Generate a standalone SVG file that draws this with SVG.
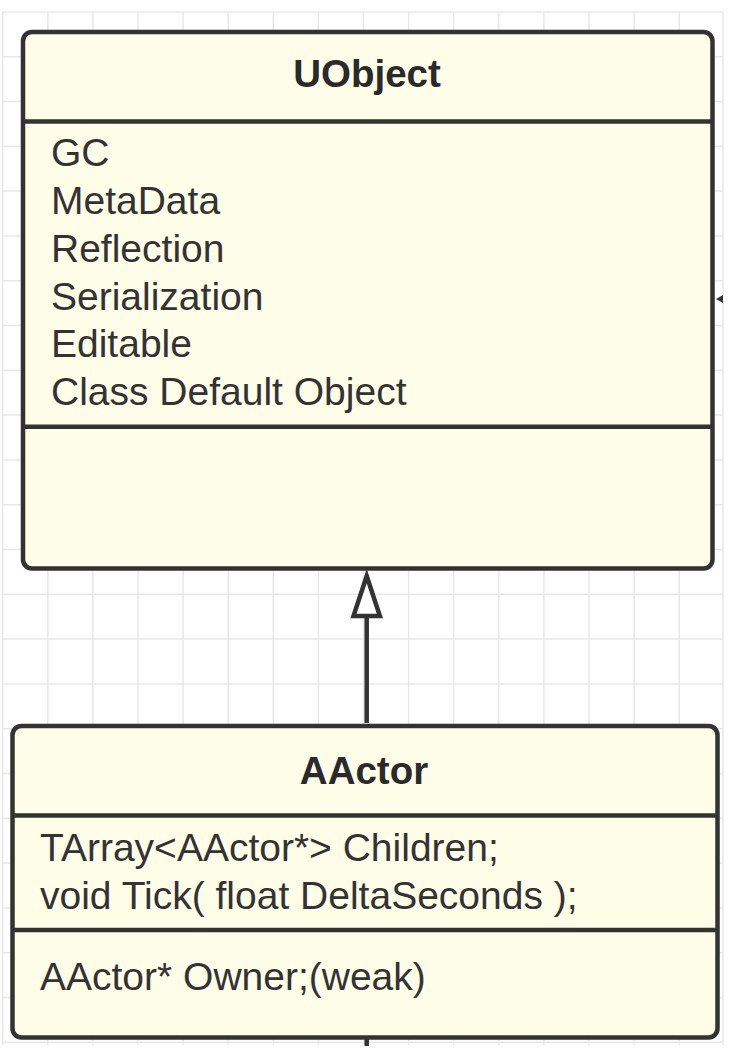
<svg xmlns="http://www.w3.org/2000/svg" width="736" height="1058" viewBox="0 0 736 1058">
<defs>
<style>
.grid line{stroke:#e8e8e8;stroke-width:1.5}
.box{fill:#fefde8;stroke:#333333;stroke-width:4.5}
.sep{stroke:#333333;stroke-width:4.5}
.title{font-family:"Liberation Sans",Arial,sans-serif;font-weight:bold;font-size:38.5px;fill:#2a2a2a;text-anchor:middle}
.attr{font-family:"Liberation Sans",Arial,sans-serif;font-size:39px;fill:#333333}
.edge{stroke:#333333;stroke-width:4.5;fill:none}
</style>
</defs>
<rect x="0" y="0" width="736" height="1058" fill="#ffffff"/>
<g class="grid">
<line x1="2.7" y1="12" x2="2.7" y2="1045"/><line x1="47.8" y1="12" x2="47.8" y2="1045"/><line x1="92.9" y1="12" x2="92.9" y2="1045"/><line x1="138" y1="12" x2="138" y2="1045"/><line x1="183.1" y1="12" x2="183.1" y2="1045"/><line x1="228.2" y1="12" x2="228.2" y2="1045"/><line x1="273.3" y1="12" x2="273.3" y2="1045"/><line x1="318.4" y1="12" x2="318.4" y2="1045"/><line x1="363.5" y1="12" x2="363.5" y2="1045"/><line x1="408.6" y1="12" x2="408.6" y2="1045"/><line x1="453.7" y1="12" x2="453.7" y2="1045"/><line x1="498.8" y1="12" x2="498.8" y2="1045"/><line x1="543.9" y1="12" x2="543.9" y2="1045"/><line x1="589" y1="12" x2="589" y2="1045"/><line x1="634.1" y1="12" x2="634.1" y2="1045"/><line x1="679.2" y1="12" x2="679.2" y2="1045"/><line x1="723" y1="12" x2="723" y2="1045"/>
<line x1="2.7" y1="12" x2="723" y2="12"/><line x1="2.7" y1="56.7" x2="723" y2="56.7"/><line x1="2.7" y1="101.5" x2="723" y2="101.5"/><line x1="2.7" y1="146.3" x2="723" y2="146.3"/><line x1="2.7" y1="191.1" x2="723" y2="191.1"/><line x1="2.7" y1="235.9" x2="723" y2="235.9"/><line x1="2.7" y1="280.7" x2="723" y2="280.7"/><line x1="2.7" y1="325.5" x2="723" y2="325.5"/><line x1="2.7" y1="370.3" x2="723" y2="370.3"/><line x1="2.7" y1="415.1" x2="723" y2="415.1"/><line x1="2.7" y1="459.9" x2="723" y2="459.9"/><line x1="2.7" y1="504.7" x2="723" y2="504.7"/><line x1="2.7" y1="549.5" x2="723" y2="549.5"/><line x1="2.7" y1="594.3" x2="723" y2="594.3"/><line x1="2.7" y1="639.1" x2="723" y2="639.1"/><line x1="2.7" y1="683.9" x2="723" y2="683.9"/><line x1="2.7" y1="728.7" x2="723" y2="728.7"/><line x1="2.7" y1="773.5" x2="723" y2="773.5"/><line x1="2.7" y1="818.3" x2="723" y2="818.3"/><line x1="2.7" y1="863.1" x2="723" y2="863.1"/><line x1="2.7" y1="907.9" x2="723" y2="907.9"/><line x1="2.7" y1="952.7" x2="723" y2="952.7"/><line x1="2.7" y1="997.5" x2="723" y2="997.5"/><line x1="2.7" y1="1042.3" x2="723" y2="1042.3"/>
</g>
<g id="connectors">
<line class="edge" x1="366.7" y1="723" x2="366.7" y2="617"/>
<polygon points="366.7,576 353.5,616 379.9,616" fill="#ffffff" stroke="#333333" stroke-width="4.5" stroke-linejoin="miter"/>
<line class="edge" x1="366.7" y1="1038" x2="366.7" y2="1046"/>
<polygon points="716,299 723,295 723,303" fill="#333333"/>
</g>
<g id="uobject">
<rect class="box" x="23" y="32" width="689.5" height="536.5" rx="9"/>
<line class="sep" x1="23" y1="121.5" x2="712.5" y2="121.5"/>
<line class="sep" x1="23" y1="426.7" x2="712.5" y2="426.7"/>
<text class="title" x="367" y="87">UObject</text>
<text class="attr" x="51" y="166">GC</text>
<text class="attr" x="51" y="213.5">MetaData</text>
<text class="attr" x="51" y="261.5">Reflection</text>
<text class="attr" x="51" y="309.5">Serialization</text>
<text class="attr" x="51" y="357">Editable</text>
<text class="attr" x="51" y="405">Class Default Object</text>
</g>
<g id="aactor">
<rect class="box" x="12.5" y="726" width="705" height="311.5" rx="9"/>
<line class="sep" x1="12.5" y1="815.5" x2="717.5" y2="815.5"/>
<line class="sep" x1="12.5" y1="930" x2="717.5" y2="930"/>
<text class="title" x="364" y="784">AActor</text>
<text class="attr" x="40" y="861">TArray&lt;AActor*&gt; Children;</text>
<text class="attr" x="40" y="908.5">void Tick( float DeltaSeconds );</text>
<text class="attr" x="40" y="990">AActor* Owner;(weak)</text>
</g>
</svg>
